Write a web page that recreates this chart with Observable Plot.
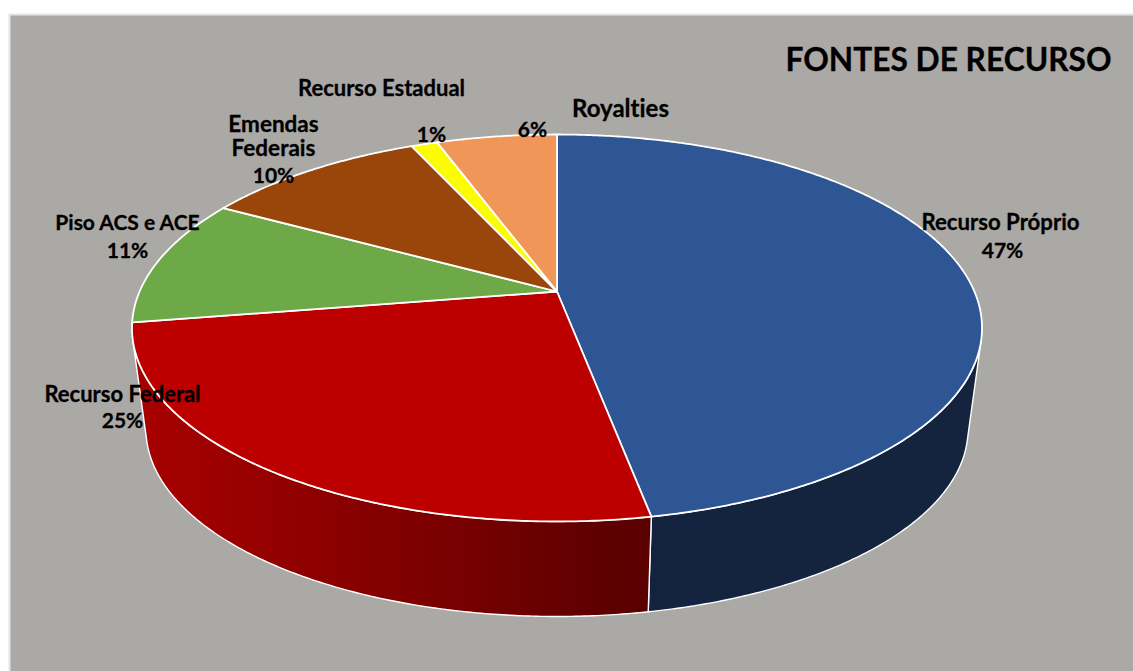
<!DOCTYPE html>
<html>
<head>
<meta charset="utf-8">
<script src="https://cdn.jsdelivr.net/npm/d3@7"></script>
<script src="https://cdn.jsdelivr.net/npm/@observablehq/plot@0.6"></script>
<style>
  html, body { margin: 0; padding: 0; background: #fff; overflow: hidden; }
  svg { display: block; font-variant-ligatures: none; }
</style>
</head>
<body>
<div id="chart"></div>
<script>
// Data
const categories = ["Recurso Próprio", "Recurso Federal", "Piso ACS e ACE", "Emendas Federais", "Recurso Estadual", "Royalties"];
const shares = [47.1, 25.4, 10.7, 10.2, 1.2, 5.5];
const title = "FONTES DE RECURSO";

// Styles
const topColors = ["#2E5594", "#BC0000", "#6EA947", "#9A450A", "#FCFC00", "#F09659"];
const panelColor = "#ABA9A6";

// Label layout: name lines and percentage anchors
const nameLabels = [
  { text: "Recurso Próprio", x: 1000, y: 222, size: 22.2 },
  { text: "Recurso Federal", x: 122, y: 394, size: 22 },
  { text: "Piso ACS e ACE", x: 127, y: 222, size: 21 },
  { text: "Emendas\nFederais", x: 273, y: 136, size: 22.5 },
  { text: "Recurso Estadual", x: 381, y: 88, size: 22 },
  { text: "Royalties", x: 620, y: 108, size: 24 }
];
const pctAnchors = [
  { x: 1002, y: 251 }, { x: 122, y: 421 }, { x: 127, y: 251 },
  { x: 273, y: 176 }, { x: 431, y: 135 }, { x: 532, y: 130 }
];

// Pie projection (tilted disc in perspective)
const cx = 556.5, topCy = 291, baseCy = 393.6, baseScale = 0.967;
const a = 186.6, b = 417.4, k = 0.1886;
const wallFrom = 104.4, wallTo = 255.6;

function project(deg, cy, s) {
  const t = deg * Math.PI / 180, u = Math.sin(t), v = -Math.cos(t), w = 1 - k * v;
  return { x: cx + b * s * u / w, y: cy + a * s * v / w };
}
function arcAngles(from, to) {
  const n = Math.max(2, Math.ceil((to - from) / 0.5));
  return d3.range(n + 1).map(i => from + (to - from) * i / n);
}

const total = d3.sum(shares);
let acc = 0;
const slices = shares.map((value, i) => {
  const start = acc / total * 360;
  acc += value;
  return { name: categories[i], value, start, end: acc / total * 360, color: topColors[i] };
});

function topPolygon(s) {
  const center = { x: cx, y: topCy };
  return [center, ...arcAngles(s.start, s.end).map(d => project(d, topCy, 1)), center];
}
function wallPolygon(s) {
  const from = Math.max(s.start, wallFrom), to = Math.min(s.end, wallTo);
  if (to <= from) return null;
  const angles = arcAngles(from, to);
  const upper = angles.map(d => project(d, topCy, 1));
  const lower = angles.map(d => project(d, baseCy, baseScale)).reverse();
  return [...upper, ...lower, upper[0]];
}

const gradients = () => {
  const defs = d3.create("svg:defs");
  const mk = (id, stops) => {
    const g = defs.append("linearGradient").attr("id", id).attr("x1", 0).attr("x2", 1).attr("y1", 0).attr("y2", 0);
    stops.forEach(([o, c]) => g.append("stop").attr("offset", o).attr("stop-color", c));
  };
  mk("wall0", [[0, "#13233F"], [0.2, "#14243F"], [1, "#14243F"]]);
  mk("wall1", [[0, "#A80000"], [0.2, "#9A0000"], [0.45, "#860000"], [0.7, "#720000"], [0.9, "#5E0000"], [1, "#5A0000"]]);
  return defs.node();
};

const walls = slices.map((s, i) => {
  const pts = wallPolygon(s);
  return pts ? Plot.line(pts, { x: "x", y: "y", fill: `url(#wall${i})`, stroke: "white", strokeWidth: 1.4, strokeLinejoin: "round" }) : null;
}).filter(Boolean);

const tops = slices.map(s =>
  Plot.line(topPolygon(s), { x: "x", y: "y", fill: s.color, stroke: "white", strokeWidth: 1.8, strokeLinejoin: "round" })
);

const font = "Lato, Carlito, Calibri, sans-serif";
const textStyle = { fontWeight: 700, fill: "#000", stroke: "#000", strokeWidth: 0.3, textAnchor: "middle", lineAnchor: "middle" };
const chart = Plot.plot({
  width: 1133,
  height: 671,
  margin: 0,
  x: { domain: [0, 1133], range: [0, 1133], axis: null },
  y: { domain: [0, 671], range: [0, 671], axis: null },
  style: { background: "#fff", fontFamily: font },
  marks: [
    gradients,
    Plot.frame({ fill: "#E4E4E4", stroke: "none", insetLeft: 8, insetTop: 13 }),
    Plot.frame({ fill: panelColor, stroke: "none", insetLeft: 10, insetTop: 15 }),
    ...walls,
    ...tops,
    ...nameLabels.map(d => Plot.text([d], { x: "x", y: "y", text: "text", fontSize: d.size, lineHeight: 1.07, ...textStyle })),
    Plot.text(slices.map((s, i) => ({ ...pctAnchors[i], label: Math.round(s.value) + "%" })), { x: "x", y: "y", text: "label", fontSize: 21, ...textStyle }),
    Plot.text([{ x: 948, y: 60, t: title }], { x: "x", y: "y", text: "t", fontSize: 31.7, ...textStyle })
  ]
});
document.getElementById("chart").appendChild(chart);
</script>
</body>
</html>
